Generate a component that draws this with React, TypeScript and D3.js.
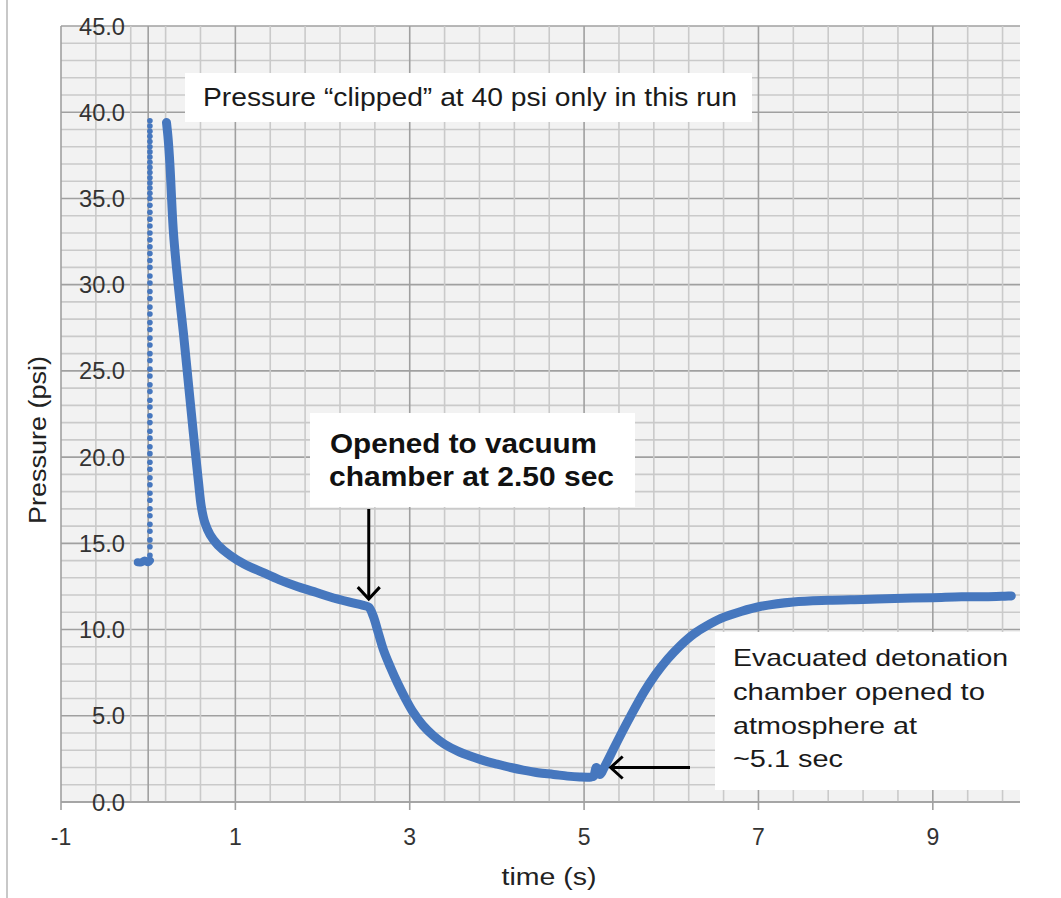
import React from "react";
import * as d3 from "d3";

// ---- data ----
const baselineTime = [-0.12, -0.08, -0.04, 0.0, 0.02];
const baselinePressure = [13.9, 13.9, 14.0, 13.9, 14.0];

const riseTime = 0.02;
const risePressure = [
  14.3, 14.8, 15.2, 15.7, 16.1, 16.6, 17.0, 17.5, 17.9, 18.4, 18.8, 19.3, 19.7, 20.2,
  20.6, 21.1, 21.5, 22.0, 22.4, 22.9, 23.3, 23.8, 24.2, 24.7, 25.1, 25.6, 26.0, 26.5,
  26.9, 27.4, 27.8, 28.3, 28.7, 29.2, 29.6, 30.1, 30.5, 31.0, 31.4, 31.8, 32.2, 32.6,
  33.0, 33.4, 33.8, 34.2, 34.6, 35.0, 35.3, 35.6, 35.9, 36.2, 36.5, 36.8, 37.1, 37.4,
  37.7, 38.0, 38.3, 38.6, 38.9, 39.2, 39.5,
];

const traceTime = [
  0.21, 0.23, 0.25, 0.29, 0.346, 0.404, 0.461, 0.518, 0.576, 0.61, 0.65, 0.71, 0.8, 0.94,
  1.1, 1.32, 1.5, 1.71, 1.9, 2.08, 2.3, 2.47, 2.53, 2.58, 2.64, 2.7, 2.78, 2.86, 2.95,
  3.04, 3.15, 3.27, 3.4, 3.55, 3.7, 3.85, 4.0, 4.16, 4.3, 4.47, 4.65, 4.81, 4.95, 5.08,
  5.11, 5.14, 5.18, 5.25, 5.33, 5.41, 5.53, 5.69, 5.82, 5.96, 6.1, 6.26, 6.4, 6.57, 6.8,
  7.03, 7.4, 7.8, 8.2, 8.56, 9.0, 9.33, 9.6, 9.9,
];
const tracePressure = [
  39.4, 38.4, 36.9, 33.0, 29.9, 27.2, 24.3, 21.4, 18.6, 17.1, 16.2, 15.5, 14.9, 14.3,
  13.8, 13.3, 12.9, 12.5, 12.2, 11.9, 11.6, 11.4, 11.3, 10.8, 9.8, 8.8, 7.8, 6.9, 6.0,
  5.2, 4.45, 3.85, 3.35, 2.95, 2.65, 2.4, 2.2, 2.0, 1.85, 1.7, 1.6, 1.5, 1.45, 1.45,
  1.5, 2.0, 1.6, 2.2, 3.0, 3.8, 4.95, 6.4, 7.4, 8.3, 9.05, 9.75, 10.2, 10.65, 11.05,
  11.35, 11.6, 11.7, 11.75, 11.8, 11.85, 11.9, 11.9, 11.95,
];

const yTickValues = [0, 5, 10, 15, 20, 25, 30, 35, 40, 45];
const xTickValues = [-1, 1, 3, 5, 7, 9];

const xTitle = "time (s)";
const yTitle = "Pressure (psi)";
const note1 = "Pressure \u201Cclipped\u201D at 40 psi only in this run";
const note2 = ["Opened to vacuum", "chamber at 2.50 sec"];
const note3 = ["Evacuated detonation", "chamber opened to", "atmosphere at", "~5.1 sec"];

const BLUE = "#4677BE";
const FONT = "'Liberation Sans', Arial, sans-serif";

export default function App() {
  const x = d3.scaleLinear().domain([-1, 10]).range([61, 1020]);
  const y = d3.scaleLinear().domain([0, 45]).range([802, 26]);

  const minorH = d3.range(0, 46, 1);
  const minorV = d3.range(0, 28).map((k) => -1 + 0.4 * k);

  const line = d3
    .line<[number, number]>()
    .x((d) => x(d[0]))
    .y((d) => y(d[1]))
    .curve(d3.curveCatmullRom.alpha(0.5));

  const tracePts: [number, number][] = traceTime.map((t, i) => [t, tracePressure[i]]);
  const basePts: [number, number][] = baselineTime.map((t, i) => [t, baselinePressure[i]]);

  const [x0, x1] = x.range();
  const [yb, yt] = y.range();

  // arrows
  const vArrowX = x(2.53);
  const vTip = y(11.3) - 8;
  const hTipX = x(5.19) + 10;
  const hY = y(2.0);

  return (
    <svg
      width={1061}
      height={898}
      style={{ position: "absolute", left: 0, top: 0, background: "#fff" }}
    >
      <line x1={7} x2={7} y1={0} y2={898} stroke="#c8c8c8" strokeWidth={2} />
      <rect x={x0} y={yt} width={x1 - x0} height={yb - yt} fill="#f2f2f2" />
      {minorH.map((v) => (
        <line
          key={"h" + v}
          x1={x0}
          x2={x1}
          y1={y(v)}
          y2={y(v)}
          stroke={v % 5 === 0 ? "#a0a0a0" : "#cacaca"}
          strokeWidth={1.6}
        />
      ))}
      {minorV.map((v, i) => (
        <line
          key={"v" + i}
          x1={x(v)}
          x2={x(v)}
          y1={yt}
          y2={yb}
          stroke={i % 5 === 0 ? "#a0a0a0" : "#cacaca"}
          strokeWidth={1.6}
        />
      ))}
      {/* y axis line at x=0 */}
      <line x1={x(0)} x2={x(0)} y1={yt} y2={yb} stroke="#a0a0a0" strokeWidth={1.6} />
      {/* x axis */}
      <line x1={x0} x2={x1} y1={yb} y2={yb} stroke="#a0a0a0" strokeWidth={1.6} />
      {xTickValues.map((v) => (
        <line key={"t" + v} x1={x(v)} x2={x(v)} y1={yb} y2={yb + 8} stroke="#a0a0a0" strokeWidth={1.6} />
      ))}
      {xTickValues.map((v) => (
        <text
          key={"xl" + v}
          x={x(v)}
          y={845}
          textAnchor="middle"
          fontFamily={FONT}
          fontSize={23}
          fill="#333"
        >
          {v}
        </text>
      ))}
      {yTickValues.map((v) => (
        <text
          key={"yl" + v}
          x={125}
          y={y(v) + 8.5}
          textAnchor="end"
          fontFamily={FONT}
          fontSize={23}
          fill="#333"
          textLength={v >= 10 ? 46 : 33}
          lengthAdjust="spacingAndGlyphs"
        >
          {v.toFixed(1)}
        </text>
      ))}

      {/* data */}
      <path
        d={line(basePts) || ""}
        fill="none"
        stroke={BLUE}
        strokeWidth={8}
        strokeLinecap="round"
        strokeLinejoin="round"
      />
      {risePressure.map((p, i) => (
        <circle key={"r" + i} cx={x(riseTime)} cy={y(p)} r={2.8} fill={BLUE} />
      ))}
      <path
        d={line(tracePts) || ""}
        fill="none"
        stroke={BLUE}
        strokeWidth={9}
        strokeLinecap="round"
        strokeLinejoin="round"
      />

      {/* annotation 1 */}
      <rect x={185} y={73} width={567} height={49} fill="#fff" />
      <text
        x={203}
        y={106}
        fontFamily={FONT}
        fontSize={25}
        fill="#1a1a1a"
        textLength={534}
        lengthAdjust="spacingAndGlyphs"
      >
        {note1}
      </text>

      {/* annotation 2 */}
      <rect x={310} y={413} width={325} height={94} fill="#fff" />
      <text
        x={330}
        y={453}
        fontFamily={FONT}
        fontWeight="bold"
        fontSize={28}
        fill="#111"
        textLength={267}
        lengthAdjust="spacingAndGlyphs"
      >
        {note2[0]}
      </text>
      <text
        x={329}
        y={486}
        fontFamily={FONT}
        fontWeight="bold"
        fontSize={28}
        fill="#111"
        textLength={285}
        lengthAdjust="spacingAndGlyphs"
      >
        {note2[1]}
      </text>

      {/* annotation 3 */}
      <rect x={715} y={632} width={305} height={158} fill="#fff" />
      {note3.map((s, i) => (
        <text
          key={"n3" + i}
          x={733}
          y={[666, 700, 734, 767][i]}
          fontFamily={FONT}
          fontSize={24}
          fill="#1a1a1a"
          textLength={[275, 252, 184, 110][i]}
          lengthAdjust="spacingAndGlyphs"
        >
          {s}
        </text>
      ))}

      {/* arrows */}
      <line x1={vArrowX} x2={vArrowX} y1={509} y2={vTip - 1} stroke="#000" strokeWidth={3} />
      <path
        d={`M${vArrowX - 11},${vTip - 12} L${vArrowX},${vTip} L${vArrowX + 11},${vTip - 12}`}
        fill="none"
        stroke="#000"
        strokeWidth={3}
      />
      <line x1={690} x2={hTipX + 1} y1={hY} y2={hY} stroke="#000" strokeWidth={3} />
      <path
        d={`M${hTipX + 12},${hY - 11} L${hTipX},${hY} L${hTipX + 12},${hY + 11}`}
        fill="none"
        stroke="#000"
        strokeWidth={3}
      />

      {/* axis titles */}
      <text
        x={549}
        y={885}
        textAnchor="middle"
        fontFamily={FONT}
        fontSize={23}
        fill="#222"
        textLength={95}
        lengthAdjust="spacingAndGlyphs"
      >
        {xTitle}
      </text>
      <text
        transform={`translate(46,440) rotate(-90)`}
        textAnchor="middle"
        fontFamily={FONT}
        fontSize={23}
        fill="#222"
        textLength={168}
        lengthAdjust="spacingAndGlyphs"
      >
        {yTitle}
      </text>
    </svg>
  );
}
